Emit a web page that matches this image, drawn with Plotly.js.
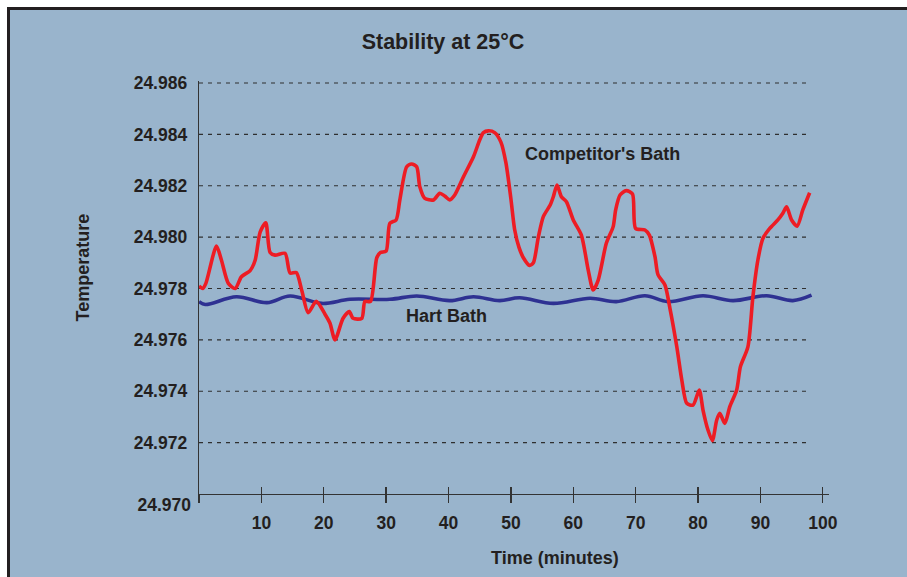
<!DOCTYPE html>
<html>
<head>
<meta charset="utf-8">
<script src="https://cdn.plot.ly/plotly-3.0.1.min.js"></script>
<style>html,body{margin:0;padding:0;background:#fff;}#chart{width:907px;height:577px;}</style>
</head>
<body>
<div id="chart"></div>
<script>
// ---- data ----
const compTime = [0, 0.6, 1.1, 2.8, 3.6, 4.7, 5.8, 6.8, 8.2, 9.0, 9.8, 10.7, 11.4, 12.2, 13.8, 14.6, 15.6, 16.5, 17.5, 18.8, 20.2, 21.0, 21.8, 23.1, 24.1, 24.7, 26.1, 26.6, 27.5, 28.5, 29.1, 30.0, 30.6, 31.6, 32.2, 33.3, 34.1, 34.9, 35.4, 36.2, 37.6, 38.6, 39.4, 40.2, 41.0, 42.4, 44.0, 45.0, 45.6, 46.4, 47.4, 48.4, 49.2, 50.0, 50.6, 51.3, 52.0, 53.0, 53.6, 54.4, 55.2, 56.3, 56.8, 57.4, 58.1, 58.9, 60.0, 61.3, 62.4, 63.2, 64.0, 65.3, 66.4, 66.8, 67.5, 68.5, 69.5, 70.0, 71.5, 72.2, 73.1, 73.6, 74.7, 75.5, 76.6, 77.4, 78.2, 79.2, 80.2, 80.8, 81.6, 82.3, 83.0, 83.5, 84.3, 85.1, 86.2, 86.8, 88.0, 88.8, 89.6, 90.4, 91.5, 92.8, 93.6, 94.2, 95.0, 95.9, 96.8, 97.9];
const compTemp = [24.9781, 24.9780, 24.9782, 24.97965, 24.9791, 24.9782, 24.9780, 24.97846, 24.9787, 24.9791, 24.9802, 24.98056, 24.9794, 24.9793, 24.97937, 24.9786, 24.97862, 24.9779, 24.97706, 24.9775, 24.9770, 24.97665, 24.9760, 24.97684, 24.9771, 24.97684, 24.97684, 24.9775, 24.9775, 24.9792, 24.9794, 24.97946, 24.98054, 24.98067, 24.98145, 24.98274, 24.98285, 24.98274, 24.98196, 24.98151, 24.98145, 24.98171, 24.9816, 24.98145, 24.98164, 24.98235, 24.98313, 24.98378, 24.98407, 24.98414, 24.98407, 24.9837, 24.9829, 24.9815, 24.9803, 24.9796, 24.9792, 24.9789, 24.9790, 24.9800, 24.9808, 24.98125, 24.98157, 24.98203, 24.98157, 24.98138, 24.98067, 24.98008, 24.97872, 24.97794, 24.97833, 24.97976, 24.98041, 24.98106, 24.98164, 24.98181, 24.98168, 24.98034, 24.98028, 24.98008, 24.97924, 24.97853, 24.97814, 24.97723, 24.97573, 24.97444, 24.97353, 24.97346, 24.97405, 24.97327, 24.97249, 24.97208, 24.97288, 24.97314, 24.97275, 24.9734, 24.97405, 24.97496, 24.97573, 24.97768, 24.97911, 24.97995, 24.98034, 24.98067, 24.98093, 24.98118, 24.98067, 24.98043, 24.98106, 24.98173];

const hartTime = [0, 1.0, 6.0, 10.9, 14.6, 19.7, 24.2, 30.6, 34.9, 40.2, 44.0, 48.2, 51.4, 56.8, 62.7, 66.9, 71.5, 75.2, 80.8, 85.6, 91.0, 95.2, 98.2];
const hartTemp = [24.97749, 24.97738, 24.97768, 24.97745, 24.97771, 24.97742, 24.97758, 24.97758, 24.97771, 24.97753, 24.97768, 24.97753, 24.97764, 24.97742, 24.97762, 24.97749, 24.97772, 24.97749, 24.97772, 24.97753, 24.97772, 24.97753, 24.97774];

const xTickVals = [0, 10, 20, 30, 40, 50, 60, 70, 80, 90, 100];
const xTickText = ['', '10', '20', '30', '40', '50', '60', '70', '80', '90', '100'];
const yTickVals = [24.970, 24.972, 24.974, 24.976, 24.978, 24.980, 24.982, 24.984, 24.986];
const yTickText = ['24.970', '24.972', '24.974', '24.976', '24.978', '24.980', '24.982', '24.984', '24.986'];

const chartTitle = 'Stability at 25°C';
const xTitle = 'Time (minutes)';
const yTitle = 'Temperature';
const compName = "Competitor's Bath";
const hartName = 'Hart Bath';

// ---- styling ----
const BG = '#99b4cc';
const INK = '#231f20';
const FONT = 'Liberation Sans, Arial, Helvetica, sans-serif';
const xRange = [0, 101];
const yRange = [24.970, 24.98608];

const traces = [
  {x: hartTime, y: hartTemp, xaxis: 'x', yaxis: 'y', type: 'scatter', mode: 'lines', name: hartName,
   line: {color: '#2e3192', width: 3.6, shape: 'spline', smoothing: 1}, hoverinfo: 'skip'},
  {x: compTime, y: compTemp, xaxis: 'x2', yaxis: 'y2', type: 'scatter', mode: 'lines', name: compName,
   line: {color: '#ed1c24', width: 3.6, shape: 'spline', smoothing: 0.7}, hoverinfo: 'skip'}
];

const gridShapes = yTickVals.slice(1).map(v => ({
  type: 'line', xref: 'paper', yref: 'y', x0: 0, x1: 0.967, y0: v, y1: v,
  line: {color: '#2f2f2f', width: 1.1, dash: '4px,5px'}, layer: 'below'
}));

const frame = {
  type: 'rect', xref: 'paper', yref: 'paper', layer: 'below',
  x0: (8.5 - 199) / 630, x1: (1100 - 199) / 630,
  y0: (494 - 800) / 413, y1: (494 - 8.5) / 413,
  fillcolor: BG, line: {color: INK, width: 3}
};

const tickFont = {family: FONT, size: 17.5, color: INK, weight: 700};
const labFont = {family: FONT, size: 18, color: INK, weight: 700};

const layout = {
  width: 907, height: 577,
  margin: {l: 199, r: 78, t: 81, b: 83},
  paper_bgcolor: '#ffffff',
  plot_bgcolor: 'rgba(0,0,0,0)',
  showlegend: false,
  title: {text: chartTitle, font: {family: FONT, size: 21.5, color: INK, weight: 700},
          xref: 'container', yref: 'container', x: 443 / 907, xanchor: 'center', y: 1 - 41 / 577, yanchor: 'middle'},
  xaxis: {range: xRange, tickmode: 'array', tickvals: xTickVals, ticktext: xTickText,
          ticks: 'outside', ticklen: 8, tickwidth: 1.3, tickcolor: '#333',
          showline: true, linecolor: '#333', linewidth: 1.3, showgrid: false, zeroline: false,
          tickfont: tickFont, ticklabelstandoff: 5, fixedrange: true},
  xaxis2: {range: xRange, overlaying: 'x', anchor: 'y', tickmode: 'array', tickvals: xTickVals, ticktext: xTickVals.map(() => ''),
           ticks: 'inside', ticklen: 7, tickwidth: 1.3, tickcolor: '#333', showline: false, showgrid: false, zeroline: false, fixedrange: true},
  yaxis: {range: yRange, tickmode: 'array', tickvals: yTickVals.slice(1), ticktext: yTickText.slice(1),
          ticks: '', showline: true, linecolor: '#333', linewidth: 1.3, showgrid: false, zeroline: false,
          tickfont: tickFont, ticklabelstandoff: 7, fixedrange: true},
  yaxis2: {range: yRange, overlaying: 'y', anchor: 'x', side: 'left', tickmode: 'array',
           tickvals: yTickVals.slice(0, 1), ticktext: yTickText.slice(0, 1),
           ticks: '', showline: false, showgrid: false, zeroline: false,
           tickfont: tickFont, ticklabelstandoff: 7, ticklabelshift: 11, fixedrange: true},
  shapes: [frame].concat(gridShapes),
  annotations: [
    {text: compName, xref: 'paper', yref: 'paper', x: (602.5 - 199) / 630, y: (494 - 154) / 413,
     xanchor: 'center', yanchor: 'middle', showarrow: false, font: labFont},
    {text: hartName, xref: 'paper', yref: 'paper', x: (446 - 199) / 630, y: (494 - 316) / 413,
     xanchor: 'center', yanchor: 'middle', showarrow: false, font: labFont},
    {text: yTitle, xref: 'paper', yref: 'paper', x: (82 - 199) / 630, y: (494 - 267.5) / 413,
     xanchor: 'center', yanchor: 'middle', textangle: -90, showarrow: false, font: labFont},
    {text: xTitle, xref: 'paper', yref: 'paper', x: (555 - 199) / 630, y: (494 - 558) / 413,
     xanchor: 'center', yanchor: 'middle', showarrow: false, font: labFont}
  ]
};

Plotly.newPlot('chart', traces, layout, {staticPlot: true, displayModeBar: false});
</script>
</body>
</html>
